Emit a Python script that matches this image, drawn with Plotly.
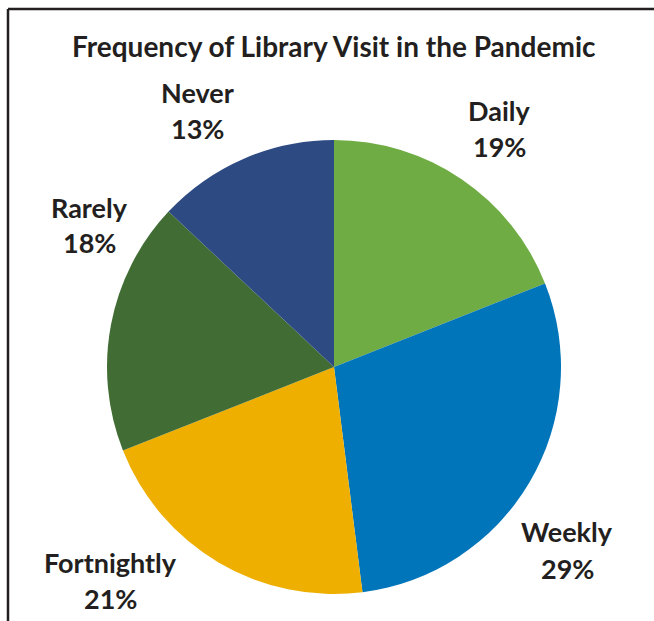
import plotly.graph_objects as go

categories = ["Daily", "Weekly", "Fortnightly", "Rarely", "Never"]
values = [19, 29, 21, 18, 13]
colors = ["#6FAC44", "#0075BA", "#EEAF00", "#416D35", "#2D4B82"]
title_text = "Frequency of Library Visit in the Pandemic"

# label placement (pixel centres of the two text lines) for each category
label_pos = {
    "Daily": (499, 110, 147),
    "Weekly": (567, 531, 568),
    "Fortnightly": (110, 562, 598),
    "Rarely": (89, 208, 243),
    "Never": (197, 92, 128),
}

W, H = 654, 621
cx, cy, r = 334, 367, 227

fig = go.Figure(go.Pie(
    labels=categories,
    values=values,
    marker=dict(colors=colors, line=dict(width=0)),
    sort=False,
    direction="clockwise",
    rotation=0,
    textinfo="none",
    hoverinfo="label+percent",
    showlegend=False,
    domain=dict(x=[(cx - r) / W, (cx + r) / W], y=[(H - cy - r) / H, (H - cy + r) / H]),
))

font_family = "Lato, 'Open Sans', sans-serif"
txt_color = "#231F20"
annotations = [dict(
    text="<b>" + title_text + "</b>", x=334 / W, y=1 - 46 / H, xref="paper", yref="paper",
    xanchor="center", yanchor="middle", showarrow=False,
    font=dict(family=font_family, size=28, color=txt_color),
)]
total = sum(values)
for cat, v in zip(categories, values):
    x, y1, y2 = label_pos[cat]
    for t, yy in ((cat, y1), (f"{round(v / total * 100)}%", y2)):
        annotations.append(dict(
            text="<b>" + t + "</b>", x=x / W, y=1 - yy / H, xref="paper", yref="paper",
            xanchor="center", yanchor="middle", showarrow=False,
            font=dict(family=font_family, size=27, color=txt_color),
        ))

shapes = [
    dict(type="line", xref="paper", yref="paper", x0=8 / W, x1=8 / W, y0=0, y1=1 - 9 / H,
         line=dict(color="#231F20", width=2.5)),
    dict(type="line", xref="paper", yref="paper", x0=8 / W, x1=1, y0=1 - 9 / H, y1=1 - 9 / H,
         line=dict(color="#231F20", width=2.5)),
]

fig.update_layout(
    width=W, height=H,
    margin=dict(l=0, r=0, t=0, b=0),
    paper_bgcolor="white", plot_bgcolor="white",
    annotations=annotations, shapes=shapes,
)

fig.write_html("out.html")
